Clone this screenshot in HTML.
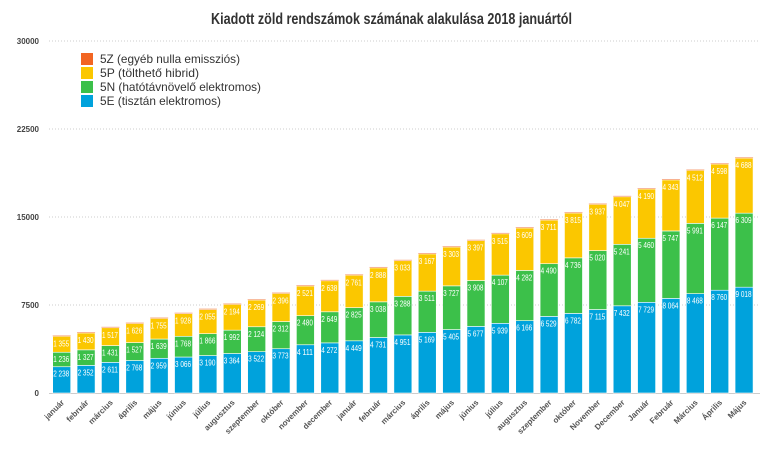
<!DOCTYPE html>
<html><head><meta charset="utf-8"><style>
body{margin:0;background:#fff;width:768px;height:450px;overflow:hidden}
svg{display:block;font-family:"Liberation Sans",sans-serif}
</style></head><body>
<svg id="c" width="768" height="450" xmlns="http://www.w3.org/2000/svg"></svg>
<script>
const E=[2238,2352,2611,2768,2959,3066,3190,3364,3522,3773,4111,4272,4449,4731,4951,5169,5405,5677,5939,6166,6529,6782,7115,7432,7729,8064,8468,8760,9018];
const N=[1236,1327,1431,1527,1639,1768,1866,1992,2124,2312,2480,2649,2825,3038,3288,3511,3727,3908,4107,4282,4490,4736,5020,5241,5460,5747,5991,6147,6309];
const P=[1355,1430,1517,1626,1755,1928,2055,2194,2269,2396,2521,2638,2761,2888,3033,3167,3303,3397,3515,3609,3711,3815,3937,4047,4190,4343,4512,4598,4688];
const L=["január","február","március","április","május","június","július","augusztus","szeptember","október","november","december","január","február","március","április","május","június","július","augusztus","szeptember","október","November","December","Január","Február","Március","Április","Május"];
const y0=393,k=352/30000;
let s='';
s+='<text x="211" y="24" textLength="361" lengthAdjust="spacingAndGlyphs" font-size="16" font-weight="bold" fill="#333">Kiadott zöld rendszámok számának alakulása 2018 januártól</text>';
[30000,22500,15000,7500].forEach(v=>{const y=y0-v*k;s+=`<line x1="49" x2="760" y1="${y}" y2="${y}" stroke="#ccc" stroke-dasharray="1,2"/><text x="39" y="${y+3}" text-anchor="end" font-size="8" font-weight="bold" fill="#444">${v}</text>`});
s+=`<text x="39" y="${y0+3}" text-anchor="end" font-size="8" font-weight="bold" fill="#444">0</text>`;
s+=`<line x1="49" x2="760" y1="${y0+0.5}" y2="${y0+0.5}" stroke="#ccc"/>`;
const fmt=v=>{const t=String(v);return t.length>3?t.slice(0,-3)+' '+t.slice(-3):t};
for(let i=0;i<29;i++){const x=52.7+i*24.37,w=18;let b=y0;
 [[E[i],'#00a2dc'],[N[i],'#3cc04a'],[P[i],'#fbc700']].forEach(([v,c])=>{const h=v*k;const t=b-h;
  s+=`<rect x="${x}" y="${t}" width="${w}" height="${h}" fill="${c}" stroke="#fff" stroke-width="0.6"/>`;
  s+=`<text x="${x+0.5}" y="${t+10}" font-size="8" textLength="16" lengthAdjust="spacingAndGlyphs" fill="#fff">${fmt(v)}</text>`;b=t;});
 s+=`<rect x="${x}" y="${b-1}" width="${w}" height="1" fill="#f26522" opacity="0.5"/>`;
 const cx=x+w/2+3,lab=L[i];s+=`<text transform="translate(${cx},${y0+10}) rotate(-45)" text-anchor="end" font-size="8" font-weight="bold" fill="#555">${lab}</text>`;
}
[['#f26522','5Z (egyéb nulla emissziós)',140],['#fbc700','5P (tölthető hibrid)',99],['#3cc04a','5N (hatótávnövelő elektromos)',161],['#00a2dc','5E (tisztán elektromos)',121]].forEach((d,j)=>{const y=53+j*14;
 s+=`<rect x="81" y="${y}" width="12" height="12" fill="${d[0]}"/><text x="100" y="${y+10}" font-size="12" textLength="${d[2]}" lengthAdjust="spacingAndGlyphs" fill="#333">${d[1]}</text>`});
document.getElementById('c').innerHTML=s;
</script>
</body></html>
